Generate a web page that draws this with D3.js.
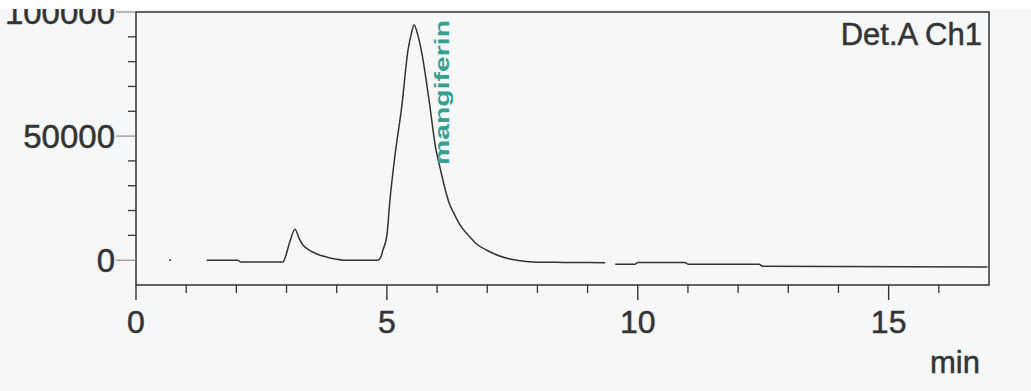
<!DOCTYPE html>
<html>
<head>
<meta charset="utf-8">
<script src="https://cdn.jsdelivr.net/npm/d3@7/dist/d3.min.js"></script>
<style>
  html, body { margin: 0; padding: 0; background: #f6f7f8; }
  svg { display: block; }
  text { font-family: "Liberation Sans", Arial, Helvetica, sans-serif; }
</style>
</head>
<body>
<svg id="chart" width="1031" height="391"></svg>
<script>
// ---- data ----
const xTicksMajor = [0, 5, 10, 15];
const xTicksMinor = [1, 2, 3, 4, 6, 7, 8, 9, 11, 12, 13, 14, 16];
const yTicksMajor = [0, 50000, 100000];
const yTicksMinor = [10000, 20000, 30000, 40000, 60000, 70000, 80000, 90000];
const yTickLabels = ["0", "50000", "100000"];

// isolated dot near 0.7 min
const dotTime = [0.66, 0.70];
const dotSignal = [0, 0];

// main trace, 1.4 – 9.35 min
const traceTime = [1.41, 2.03, 2.08, 2.93, 2.98, 3.06, 3.17, 3.25, 3.33, 3.43, 3.53, 3.67, 3.81, 3.97, 4.13, 4.82,
  4.88, 4.92, 5.00, 5.06, 5.16, 5.30, 5.42, 5.49, 5.54, 5.62, 5.70, 5.84, 5.98, 6.06, 6.15, 6.25, 6.32, 6.46,
  6.66, 6.80, 6.99, 7.18, 7.39, 7.62, 7.91, 8.50, 9.35];
const traceSignal = [0, 0, -700, -700, 1500, 7000, 12500, 8800, 6000, 4400, 3200, 2000, 1200, 500, 0, 0,
  1200, 4000, 10000, 24000, 42000, 62500, 84500, 91500, 94800, 90500, 83000, 64500, 44300, 37200, 29500, 22500, 19500, 14100,
  9200, 6300, 4000, 2200, 800, -100, -700, -900, -1000];

// trace after the gap, 9.55 – 17 min
const tailTime = [9.55, 9.95, 10.00, 10.94, 11.00, 12.42, 12.48, 16.97];
const tailSignal = [-1600, -1600, -900, -900, -1600, -1600, -2400, -2700];

const peakName = "mangiferin";
const peakTime = 5.54;
const detectorLabel = "Det.A Ch1";
const xUnit = "min";

// ---- layout ----
const svg = d3.select("#chart");
const mLeft = 136, mRight = 989, mTop = 12, mBottom = 285;

const x = d3.scaleLinear().domain([0, 17]).range([mLeft, mRight]);
const y = d3.scaleLinear().domain([-10000, 100000]).range([mBottom, mTop]);

const ink = "#333";
const textCol = "#343434";

// frame
svg.append("rect")
  .attr("x", mLeft).attr("y", mTop)
  .attr("width", mRight - mLeft).attr("height", mBottom - mTop)
  .attr("fill", "none").attr("stroke", ink).attr("stroke-width", 1.5);

// x axis ticks
const gx = svg.append("g");
gx.selectAll("line.minor").data(xTicksMinor).join("line")
  .attr("class", "minor")
  .attr("x1", d => x(d)).attr("x2", d => x(d))
  .attr("y1", mBottom).attr("y2", mBottom + 8)
  .attr("stroke", ink).attr("stroke-width", 1.3);
gx.selectAll("line.major").data(xTicksMajor).join("line")
  .attr("class", "major")
  .attr("x1", d => x(d)).attr("x2", d => x(d))
  .attr("y1", mBottom).attr("y2", mBottom + 15)
  .attr("stroke", ink).attr("stroke-width", 1.4);
gx.selectAll("text").data(xTicksMajor).join("text")
  .attr("x", d => x(d)).attr("y", 333)
  .attr("text-anchor", "middle")
  .attr("font-size", 32).attr("fill", textCol)
  .attr("stroke", textCol).attr("stroke-width", 0.5)
  .text(d => d);

// y axis ticks
const gy = svg.append("g");
gy.selectAll("line.minor").data(yTicksMinor).join("line")
  .attr("class", "minor")
  .attr("x1", mLeft - 8).attr("x2", mLeft)
  .attr("y1", d => y(d)).attr("y2", d => y(d))
  .attr("stroke", ink).attr("stroke-width", 1.3);
gy.selectAll("line.major").data(yTicksMajor).join("line")
  .attr("class", "major")
  .attr("x1", mLeft - 20).attr("x2", mLeft)
  .attr("y1", d => y(d)).attr("y2", d => y(d))
  .attr("stroke", "#777").attr("stroke-width", 1);
gy.selectAll("text").data(yTicksMajor).join("text")
  .attr("x", mLeft - 21).attr("y", d => y(d))
  .attr("dy", "0.36em")
  .attr("text-anchor", "end")
  .attr("font-size", 33).attr("fill", textCol)
  .attr("stroke", textCol).attr("stroke-width", 0.5)
  .text((d, i) => yTickLabels[i]);

// traces
const line = d3.line().x(d => x(d[0])).y(d => y(d[1])).curve(d3.curveMonotoneX);
const series = [
  d3.zip(dotTime, dotSignal),
  d3.zip(traceTime, traceSignal),
  d3.zip(tailTime, tailSignal)
];
svg.append("g").selectAll("path").data(series).join("path")
  .attr("d", line)
  .attr("fill", "none")
  .attr("stroke", "#333")
  .attr("stroke-width", 1.5)
  .attr("stroke-linejoin", "round");

// peak label
const px = x(peakTime) + 35, py = 165;
svg.append("text")
  .attr("transform", `translate(${px},${py}) rotate(-90)`)
  .attr("text-anchor", "start")
  .attr("font-size", 20).attr("font-weight", "bold")
  .attr("textLength", 145).attr("lengthAdjust", "spacingAndGlyphs")
  .attr("fill", "#35a08f")
  .text(peakName);

// detector label
svg.append("text")
  .attr("x", mRight - 7).attr("y", 45)
  .attr("text-anchor", "end")
  .attr("font-size", 31).attr("fill", textCol)
  .attr("stroke", textCol).attr("stroke-width", 0.5)
  .text(detectorLabel);

// axis unit
svg.append("text")
  .attr("x", 980).attr("y", 373)
  .attr("text-anchor", "end")
  .attr("font-size", 31).attr("fill", textCol)
  .attr("stroke", textCol).attr("stroke-width", 0.5)
  .text(xUnit);

// white scan margin at the very top
svg.append("rect").attr("x", 0).attr("y", 0).attr("width", 1031).attr("height", 9).attr("fill", "#ffffff");
</script>
</body>
</html>
